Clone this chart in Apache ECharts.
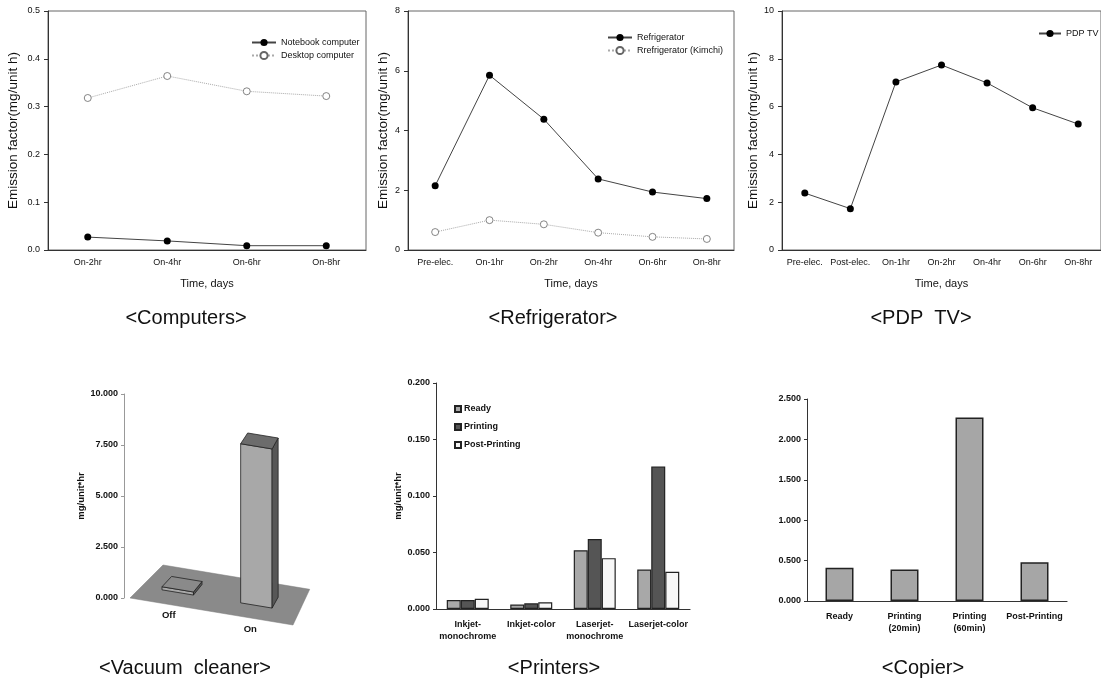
<!DOCTYPE html>
<html>
<head>
<meta charset="utf-8">
<script src="https://cdn.jsdelivr.net/npm/echarts@6/dist/echarts.min.js"></script>
<style>
  html, body { margin: 0; padding: 0; background: #fff; }
  #chart { width: 1101px; height: 689px; }
</style>
</head>
<body>
<div id="chart"></div>
<script>
// ---- data ----
const computerTimes = ['On-2hr', 'On-4hr', 'On-6hr', 'On-8hr'];
const notebookValues = [0.027, 0.019, 0.009, 0.009];
const desktopValues = [0.318, 0.364, 0.332, 0.322];

const fridgeTimes = ['Pre-elec.', 'On-1hr', 'On-2hr', 'On-4hr', 'On-6hr', 'On-8hr'];
const fridgeValues = [2.15, 5.85, 4.38, 2.38, 1.94, 1.72];
const kimchiValues = [0.60, 1.00, 0.86, 0.58, 0.44, 0.37];

const tvTimes = ['Pre-elec.', 'Post-elec.', 'On-1hr', 'On-2hr', 'On-4hr', 'On-6hr', 'On-8hr'];
const tvValues = [2.38, 1.73, 7.03, 7.74, 6.99, 5.95, 5.27];

const vacuumModes = ['Off', 'On'];
const vacuumValues = [0.15, 7.8];

const printerTypes = ['Inkjet-\nmonochrome', 'Inkjet-color', 'Laserjet-\nmonochrome', 'Laserjet-color'];
const printerReady = [0.008, 0.004, 0.052, 0.035];
const printerPrinting = [0.008, 0.005, 0.062, 0.126];
const printerPost = [0.009, 0.006, 0.045, 0.033];

const copierModes = ['Ready', 'Printing\n(20min)', 'Printing\n(60min)', 'Post-Printing'];
const copierValues = [0.41, 0.39, 2.27, 0.48];

const captions = [
  ['<Computers>', 186, 318], ['<Refrigerator>', 553, 318], ['<PDP  TV>', 921, 318],
  ['<Vacuum  cleaner>', 185, 668], ['<Printers>', 554, 668], ['<Copier>', 923, 668]
];

const font = "'Liberation Sans', Arial, sans-serif";
const chart = echarts.init(document.getElementById('chart'));

// top row: SigmaPlot style line charts
function timeAxis(idx, data) {
  return {
    gridIndex: idx, type: 'category', data: data, boundaryGap: true,
    axisLine: { lineStyle: { color: '#333', width: 1 } },
    axisTick: { alignWithLabel: true, length: 4, lineStyle: { color: '#333' } },
    axisLabel: { interval: 0, color: '#111', fontSize: 9, margin: 8, fontFamily: font },
    name: 'Time, days', nameLocation: 'middle', nameGap: 28,
    nameTextStyle: { color: '#111', fontSize: 11, fontFamily: font }
  };
}
function emissionAxis(idx, max, step, digits, gap) {
  return {
    gridIndex: idx, type: 'value', min: 0, max: max, interval: step,
    axisLine: { show: true, lineStyle: { color: '#333', width: 1 } },
    axisTick: { show: true, length: 4, lineStyle: { color: '#333' } },
    splitLine: { show: false },
    axisLabel: { color: '#111', fontSize: 9, margin: 8, fontFamily: font,
      formatter: v => v.toFixed(digits) },
    name: 'Emission factor(mg/unit h)', nameLocation: 'middle', nameGap: gap,
    nameTextStyle: { color: '#111', fontSize: 13.5, fontFamily: font }
  };
}
// bottom row: bar charts
function barYAxis(idx, max, step, nameText, gap, lineColor) {
  return {
    gridIndex: idx, type: 'value', min: 0, max: max, interval: step,
    axisLine: { show: true, lineStyle: { color: lineColor, width: 1 } },
    axisTick: { show: true, length: 3, lineStyle: { color: lineColor } },
    splitLine: { show: false },
    axisLabel: { color: '#111', fontSize: 9, fontWeight: 'bold', margin: 6, fontFamily: font,
      formatter: v => v.toFixed(3) },
    name: nameText, nameLocation: 'middle', nameGap: gap,
    nameTextStyle: { color: '#111', fontSize: 9.5, fontWeight: 'bold', fontFamily: font }
  };
}
function barXAxis(idx, data) {
  return {
    gridIndex: idx, type: 'category', data: data,
    axisLine: { lineStyle: { color: '#333', width: 1.2 } },
    axisTick: { length: 3, lineStyle: { color: '#333' } },
    axisLabel: { interval: 0, color: '#111', fontSize: 9, fontWeight: 'bold', margin: 10,
      lineHeight: 12, fontFamily: font }
  };
}

// pseudo-3D projection for the vacuum cleaner panel
function proj(cs, u, d, h) {
  const k = 1 - 0.1 * d;
  return [cs.x + u * cs.width * k + d * 33, cs.y + cs.height + u * 27 * k - d * 33 - h];
}
function floorItem(params, api) {
  const cs = params.coordSys;
  return {
    type: 'polygon',
    shape: { points: [proj(cs, 0, 0, 0), proj(cs, 1, 0, 0), proj(cs, 1, 1, 0), proj(cs, 0, 1, 0)] },
    style: { fill: '#8a8a8a', stroke: '#7a7a7a', lineWidth: 0.5 }
  };
}
function boxItem(params, api) {
  const cs = params.coordSys;
  const base = api.coord([api.value(0), 0]);
  const top = api.coord([api.value(0), api.value(1)]);
  const h = base[1] - top[1];
  const c = (base[0] - cs.x) / cs.width - 0.02;
  const u0 = c - 0.1, u1 = c + 0.1, d0 = 0.35, d1 = 0.66;
  const edge = { stroke: '#222', lineWidth: 0.8 };
  const lab = proj(cs, c + 0.02, 0, 0);
  return {
    type: 'group',
    children: [
      { type: 'polygon', shape: { points: [proj(cs, u0, d0, 0), proj(cs, u1, d0, 0), proj(cs, u1, d0, h), proj(cs, u0, d0, h)] },
        style: Object.assign({ fill: '#a8a8a8' }, edge) },
      { type: 'polygon', shape: { points: [proj(cs, u1, d0, 0), proj(cs, u1, d1, 0), proj(cs, u1, d1, h), proj(cs, u1, d0, h)] },
        style: Object.assign({ fill: '#575757' }, edge) },
      { type: 'polygon', shape: { points: [proj(cs, u0, d0, h), proj(cs, u1, d0, h), proj(cs, u1, d1, h), proj(cs, u0, d1, h)] },
        style: Object.assign({ fill: h > 10 ? '#6c6c6c' : '#8a8a8a' }, edge) },
      { type: 'text', x: lab[0] - 2, y: lab[1] + 11,
        style: { text: vacuumModes[params.dataIndex], fill: '#111', font: 'bold 9.5px ' + font,
          align: 'center', verticalAlign: 'middle' } }
    ]
  };
}

const option = {
  animation: false,
  backgroundColor: '#fff',
  grid: [
    { left: 48, top: 11, width: 318, height: 239, show: true, borderColor: '#666', borderWidth: 1 },
    { left: 408, top: 11, width: 326, height: 239, show: true, borderColor: '#666', borderWidth: 1 },
    { left: 782, top: 11, width: 321, height: 239, show: true, borderColor: '#666', borderWidth: 1 },
    { left: 130, top: 394, width: 163, height: 204 },
    { left: 436, top: 383, width: 254, height: 226 },
    { left: 807, top: 399, width: 260, height: 202 }
  ],
  xAxis: [
    timeAxis(0, computerTimes),
    timeAxis(1, fridgeTimes),
    timeAxis(2, tvTimes),
    { gridIndex: 3, type: 'category', data: vacuumModes, boundaryGap: true,
      axisLine: { show: false }, axisTick: { show: false }, axisLabel: { show: false } },
    barXAxis(4, printerTypes),
    barXAxis(5, copierModes)
  ],
  yAxis: [
    emissionAxis(0, 0.5, 0.1, 1, 28),
    emissionAxis(1, 8, 2, 0, 18),
    emissionAxis(2, 10, 2, 0, 22),
    Object.assign(barYAxis(3, 10, 2.5, 'mg/unit*hr', 36, '#999'), { offset: 6 }),
    barYAxis(4, 0.2, 0.05, 'mg/unit*hr', 31, '#333'),
    barYAxis(5, 2.5, 0.5, '', 30, '#333')
  ],
  legend: [
    { left: 246, top: 32, orient: 'vertical', itemWidth: 24, itemHeight: 9, itemGap: 2,
      data: ['Notebook computer', 'Desktop computer'],
      textStyle: { fontSize: 9, color: '#111', fontFamily: font, lineHeight: 11 } },
    { left: 602, top: 27, orient: 'vertical', itemWidth: 24, itemHeight: 9, itemGap: 2,
      data: ['Refrigerator', 'Rrefrigerator (Kimchi)'],
      textStyle: { fontSize: 9, color: '#111', fontFamily: font, lineHeight: 11 } },
    { left: 1033, top: 23, orient: 'vertical', itemWidth: 22, itemHeight: 9,
      data: ['PDP TV'],
      textStyle: { fontSize: 9, color: '#111', fontFamily: font, lineHeight: 11 } },
    { left: 449, top: 398, orient: 'vertical', icon: 'rect', itemWidth: 6, itemHeight: 6, itemGap: 6,
      data: ['Ready', 'Printing', 'Post-Printing'],
      textStyle: { fontSize: 9, fontWeight: 'bold', color: '#111', fontFamily: font, lineHeight: 12, padding: [0, 0, 0, -2] } }
  ],
  series: [
    { type: 'line', name: 'Notebook computer', xAxisIndex: 0, yAxisIndex: 0, data: notebookValues,
      symbol: 'circle', symbolSize: 7, lineStyle: { color: '#444', width: 1 }, itemStyle: { color: '#000' } },
    { type: 'line', name: 'Desktop computer', xAxisIndex: 0, yAxisIndex: 0, data: desktopValues,
      symbol: 'circle', symbolSize: 7, lineStyle: { color: '#aaa', width: 1, type: 'dotted' },
      itemStyle: { color: '#fff', borderColor: '#666', borderWidth: 0.8 } },
    { type: 'line', name: 'Refrigerator', xAxisIndex: 1, yAxisIndex: 1, data: fridgeValues,
      symbol: 'circle', symbolSize: 7, lineStyle: { color: '#444', width: 1 }, itemStyle: { color: '#000' } },
    { type: 'line', name: 'Rrefrigerator (Kimchi)', xAxisIndex: 1, yAxisIndex: 1, data: kimchiValues,
      symbol: 'circle', symbolSize: 7, lineStyle: { color: '#aaa', width: 1, type: 'dotted' },
      itemStyle: { color: '#fff', borderColor: '#666', borderWidth: 0.8 } },
    { type: 'line', name: 'PDP TV', xAxisIndex: 2, yAxisIndex: 2, data: tvValues,
      symbol: 'circle', symbolSize: 7, lineStyle: { color: '#444', width: 1 }, itemStyle: { color: '#000' } },
    { type: 'custom', name: 'floor', xAxisIndex: 3, yAxisIndex: 3, data: [[0, 0]],
      renderItem: floorItem, z: 1, silent: true },
    { type: 'custom', name: 'Vacuum cleaner', xAxisIndex: 3, yAxisIndex: 3,
      data: vacuumValues.map((v, i) => [i, v]), renderItem: boxItem, z: 2,
      encode: { x: 0, y: 1 } },
    { type: 'bar', name: 'Ready', xAxisIndex: 4, yAxisIndex: 4, data: printerReady, barWidth: 14, barGap: '0%',
      itemStyle: { color: '#a8a8a8', borderColor: '#222', borderWidth: 1.2 } },
    { type: 'bar', name: 'Printing', xAxisIndex: 4, yAxisIndex: 4, data: printerPrinting, barWidth: 14, barGap: '0%',
      itemStyle: { color: '#555555', borderColor: '#222', borderWidth: 1.2 } },
    { type: 'bar', name: 'Post-Printing', xAxisIndex: 4, yAxisIndex: 4, data: printerPost, barWidth: 14, barGap: '0%',
      itemStyle: { color: '#f7f7f7', borderColor: '#222', borderWidth: 1.2 } },
    { type: 'bar', name: 'Copier', xAxisIndex: 5, yAxisIndex: 5, data: copierValues, barWidth: 28,
      itemStyle: { color: '#a6a6a6', borderColor: '#222', borderWidth: 1.5 } }
  ],
  graphic: captions.map(c => ({
    type: 'text', x: c[1], y: c[2],
    style: { text: c[0], fill: '#111', font: '20px ' + font, align: 'center', verticalAlign: 'middle' }
  }))
};

chart.setOption(option);
</script>
</body>
</html>
